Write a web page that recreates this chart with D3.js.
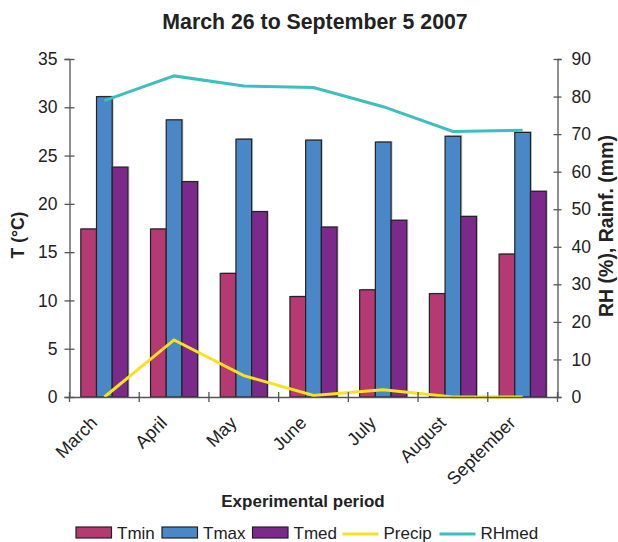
<!DOCTYPE html>
<html>
<head>
<meta charset="utf-8">
<script src="https://cdn.jsdelivr.net/npm/d3@7"></script>
<style>
  html, body { margin: 0; padding: 0; background: #fff; }
  svg { display: block; font-family: "Liberation Sans", Arial, sans-serif; }
</style>
</head>
<body>
<svg id="chart" width="618" height="542"></svg>
<script>
const months = ["March", "April", "May", "June", "July", "August", "September"];
const tmin  = [17.4, 17.4, 12.8, 10.4, 11.1, 10.7, 14.8];
const tmax  = [31.1, 28.7, 26.7, 26.6, 26.4, 27.0, 27.4];
const tmed  = [23.8, 22.3, 19.2, 17.6, 18.3, 18.7, 21.3];
const precip = [0, 15.2, 5.7, 0.4, 1.9, 0, 0];
const rhmed  = [78.9, 85.5, 82.8, 82.4, 77.3, 70.7, 71.0];
const leftTicks  = [0, 5, 10, 15, 20, 25, 30, 35];
const rightTicks = [0, 10, 20, 30, 40, 50, 60, 70, 80, 90];
const barSeries = ["Tmin", "Tmax", "Tmed"];
const lineSeries = ["Precip", "RHmed"];

const colors = { Tmin: "#b53a73", Tmax: "#4a87c6", Tmed: "#7b2a8b", Precip: "#f8e11e", RHmed: "#3cbfbe" };
const barData = { Tmin: tmin, Tmax: tmax, Tmed: tmed };
const lineData = { Precip: precip, RHmed: rhmed };

const svg = d3.select("#chart");
const pLeft = 69.5, pRight = 557.5, pTop = 59, pBottom = 397;

const x0 = d3.scaleBand().domain(months).range([pLeft, pRight]).padding(0);
const bw = x0.bandwidth();
const x1 = d3.scaleBand().domain(barSeries).range([11.3, bw - 11.3]).padding(0);
const yL = d3.scaleLinear().domain([0, 35]).range([pBottom, pTop]);
const yR = d3.scaleLinear().domain([0, 90]).range([pBottom, pTop]);

// Title
svg.append("text").attr("x", 315).attr("y", 29).attr("text-anchor", "middle")
  .attr("font-size", 21.3).attr("font-weight", "bold").attr("fill", "#222")
  .text("March 26 to September 5 2007");

// Bars
const groups = svg.append("g").selectAll("g").data(months).join("g")
  .attr("transform", d => `translate(${x0(d)},0)`);
barSeries.forEach(s => {
  groups.append("rect")
    .attr("x", (d, i) => x1(s) + 1.5)
    .attr("y", (d, i) => yL(barData[s][i]) - 1)
    .attr("width", x1.bandwidth())
    .attr("height", (d, i) => pBottom - yL(barData[s][i]) + 1)
    .attr("fill", "#c8c8c8");
});
barSeries.forEach(s => {
  groups.append("rect")
    .attr("x", (d, i) => x1(s))
    .attr("y", (d, i) => yL(barData[s][i]))
    .attr("width", x1.bandwidth())
    .attr("height", (d, i) => pBottom - yL(barData[s][i]))
    .attr("fill", colors[s])
    .attr("stroke", "#222").attr("stroke-width", 1.2);
});

// Lines
lineSeries.forEach(s => {
  const line = d3.line()
    .x((d, i) => x0(months[i]) + bw / 2)
    .y(d => yR(d));
  svg.append("path").datum(lineData[s])
    .attr("d", line).attr("fill", "none")
    .attr("stroke", colors[s]).attr("stroke-width", 3);
});

// Axes
const axisColor = "#555";
const gL = svg.append("g").attr("transform", `translate(${pLeft},0)`)
  .call(d3.axisLeft(yL).tickValues(leftTicks).tickSize(5).tickPadding(7));
gL.selectAll(".tick line").attr("x2", 5).attr("x1", -5);
const gR = svg.append("g").attr("transform", `translate(${pRight},0)`)
  .call(d3.axisRight(yR).tickValues(rightTicks).tickSize(4).tickPadding(10));
gR.selectAll(".tick line").attr("x1", -4).attr("x2", 4);
const gX = svg.append("g").attr("transform", `translate(0,${pBottom})`)
  .call(d3.axisBottom(x0).tickSize(0).tickFormat(""));
[gL, gR].forEach(g => {
  g.select(".domain").attr("stroke", axisColor).attr("stroke-width", 1.3);
  g.selectAll(".tick line").attr("stroke", axisColor).attr("stroke-width", 1.3);
  g.selectAll(".tick text").attr("font-size", 17.5).attr("fill", "#222")
    .attr("font-family", "Liberation Sans, Arial, sans-serif");
});
gX.select(".domain").attr("stroke", axisColor).attr("stroke-width", 1.3);
// category boundary ticks
const bounds = months.map(m => x0(m)).concat([pRight]);
svg.append("g").selectAll("line").data(bounds).join("line")
  .attr("x1", d => d).attr("x2", d => d)
  .attr("y1", pBottom - 5).attr("y2", pBottom + 5)
  .attr("stroke", axisColor).attr("stroke-width", 1.3);

// Category labels
svg.append("g").selectAll("text").data(months).join("text")
  .attr("transform", d => `translate(${x0(d) + bw / 2 - 6},${pBottom + 27}) rotate(-45)`)
  .attr("text-anchor", "end").attr("font-size", 18).attr("fill", "#222")
  .text(d => d);

// Axis titles
svg.append("text").attr("transform", `translate(24,235) rotate(-90)`)
  .attr("text-anchor", "middle").attr("font-size", 17.5).attr("font-weight", "bold").attr("fill", "#222")
  .text("T (°C)");
svg.append("text").attr("transform", `translate(613,226) rotate(-90)`)
  .attr("text-anchor", "middle").attr("font-size", 19.5).attr("font-weight", "bold").attr("fill", "#222")
  .text("RH (%), Rainf. (mm)");
svg.append("text").attr("x", 303).attr("y", 507).attr("text-anchor", "middle")
  .attr("font-size", 17).attr("font-weight", "bold").attr("fill", "#222")
  .text("Experimental period");

// Legend
const legendItems = [
  { name: "Tmin", type: "bar", x: 76 },
  { name: "Tmax", type: "bar", x: 162 },
  { name: "Tmed", type: "bar", x: 252.5 },
  { name: "Precip", type: "line", x: 342.5 },
  { name: "RHmed", type: "line", x: 439.5 }
];
const lg = svg.append("g");
legendItems.forEach(it => {
  if (it.type === "bar") {
    lg.append("rect").attr("x", it.x).attr("y", 527).attr("width", 35.5).attr("height", 11)
      .attr("fill", colors[it.name]).attr("stroke", "#222").attr("stroke-width", 1.2);
  } else {
    lg.append("line").attr("x1", it.x).attr("x2", it.x + 36).attr("y1", 534).attr("y2", 534)
      .attr("stroke", colors[it.name]).attr("stroke-width", 3);
  }
  lg.append("text").attr("x", it.x + 41).attr("y", 538.5).attr("font-size", 17).attr("fill", "#222")
    .text(it.name);
});
</script>
</body>
</html>
